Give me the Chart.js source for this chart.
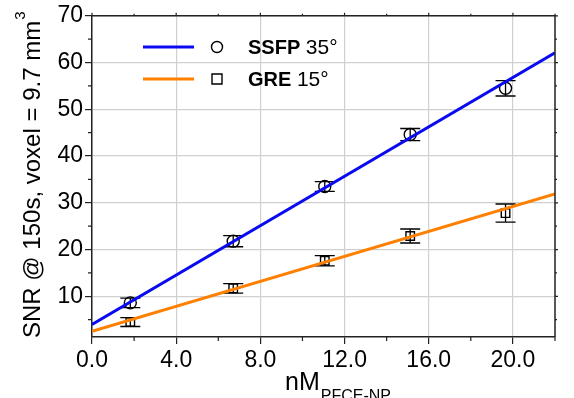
<!DOCTYPE html>
<html>
<head>
<meta charset="utf-8">
<script src="https://cdn.jsdelivr.net/npm/chart.js@4/dist/chart.umd.min.js"></script>
<style>
html,body{margin:0;padding:0;background:#fff;}
#wrap{width:574px;height:398px;position:relative;}
</style>
</head>
<body>
<div id="wrap"><canvas id="c" width="574" height="398"></canvas></div>
<script>
// ---- data ----
const xTicks = [0, 4, 8, 12, 16, 20];
const xMinorTicks = [2, 6, 10, 14, 18, 22];
const yTicks = [10, 20, 30, 40, 50, 60, 70];
const yMinorTicks = [5, 15, 25, 35, 45, 55, 65];
const conc = [1.82, 6.71, 11.06, 15.12, 19.65];
const ssfp = [8.6, 21.8, 33.5, 44.6, 54.5];
const ssfpErr = [1.0, 1.2, 1.05, 1.3, 1.65];
const gre = [4.5, 11.7, 17.6, 22.9, 27.8];
const greErr = [0.95, 1.0, 1.1, 1.5, 1.95];
const fitX = [0, 22];
const ssfpFit = [4.0, 62.1];
const greFit = [2.5, 31.9];
const seriesNames = ['SSFP', 'GRE'];
const seriesAngles = ['35°', '15°'];
const yTitle = 'SNR @ 150s, voxel = 9.7 mm';
const yTitleSup = '3';
const xTitle = 'nM';
const xTitleSub = 'PFCE-NP';

const BLUE = '#0a0af0';
const ORANGE = '#ff8000';
const FONT = '"Liberation Sans", Arial, Helvetica, sans-serif';

const toPts = (xs, ys) => xs.map((x, i) => ({x: x, y: ys[i]}));

const errorBars = {
  id: 'errorBars',
  beforeDatasetsDraw(chart) {
    const {ctx, scales: {x, y}} = chart;
    ctx.save();
    ctx.strokeStyle = '#000';
    ctx.lineWidth = 1.3;
    const draw = (vals, errs) => {
      vals.forEach((v, i) => {
        const px = x.getPixelForValue(conc[i]);
        const top = y.getPixelForValue(v + errs[i]);
        const bot = y.getPixelForValue(v - errs[i]);
        ctx.beginPath();
        ctx.moveTo(px, top); ctx.lineTo(px, bot);
        ctx.moveTo(px - 10, top); ctx.lineTo(px + 10, top);
        ctx.moveTo(px - 10, bot); ctx.lineTo(px + 10, bot);
        ctx.stroke();
      });
    };
    draw(ssfp, ssfpErr);
    draw(gre, greErr);
    ctx.restore();
  }
};

const frame = {
  id: 'frame',
  afterDraw(chart) {
    const {ctx, chartArea: a, scales: {x, y}} = chart;
    ctx.save();
    ctx.strokeStyle = '#222';
    ctx.lineWidth = 1.5;
    ctx.beginPath();
    ctx.moveTo(a.left, a.top); ctx.lineTo(a.right, a.top); ctx.lineTo(a.right, a.bottom);
    ctx.stroke();
    ctx.lineWidth = 1.2;
    ctx.beginPath();
    xMinorTicks.forEach(v => {
      const px = x.getPixelForValue(v);
      ctx.moveTo(px, a.bottom); ctx.lineTo(px, a.bottom + 4);
      ctx.moveTo(px, a.top); ctx.lineTo(px, a.top - 2);
    });
    xTicks.forEach(v => {
      const px = x.getPixelForValue(v);
      ctx.moveTo(px, a.top); ctx.lineTo(px, a.top - 3);
    });
    yMinorTicks.forEach(v => {
      const py = y.getPixelForValue(v);
      ctx.moveTo(a.left, py); ctx.lineTo(a.left - 4, py);
      ctx.moveTo(a.right, py); ctx.lineTo(a.right + 2, py);
    });
    yTicks.forEach(v => {
      const py = y.getPixelForValue(v);
      ctx.moveTo(a.right, py); ctx.lineTo(a.right + 3, py);
    });
    ctx.stroke();

    // legend
    const rows = [{c: BLUE, y: 47, m: 'circle'}, {c: ORANGE, y: 79, m: 'rect'}];
    rows.forEach((r, i) => {
      ctx.strokeStyle = r.c; ctx.lineWidth = 3;
      ctx.beginPath(); ctx.moveTo(143, r.y); ctx.lineTo(194, r.y); ctx.stroke();
      ctx.strokeStyle = '#000'; ctx.lineWidth = 1.4;
      ctx.beginPath();
      if (r.m === 'circle') ctx.arc(217, r.y, 5.5, 0, Math.PI * 2);
      else ctx.rect(212, r.y - 5, 10, 10);
      ctx.stroke();
      ctx.fillStyle = '#000';
      ctx.textBaseline = 'alphabetic';
      ctx.textAlign = 'left';
      ctx.font = 'bold 20px ' + FONT;
      ctx.fillText(seriesNames[i], 248, r.y + 7);
      const w = ctx.measureText(seriesNames[i] + ' ').width;
      ctx.font = '21px ' + FONT;
      ctx.fillText(seriesAngles[i], 248 + w, r.y + 7);
    });

    // y title
    ctx.save();
    ctx.translate(40, 338);
    ctx.rotate(-Math.PI / 2);
    ctx.font = '24px ' + FONT;
    ctx.fillStyle = '#000';
    ctx.textAlign = 'left';
    ctx.textBaseline = 'alphabetic';
    ctx.fillText(yTitle, 0, 0);
    const tw = ctx.measureText(yTitle).width;
    ctx.font = '15px ' + FONT;
    ctx.fillText(yTitleSup, tw + 1, -15);
    ctx.restore();

    // x title
    ctx.font = '25px ' + FONT;
    ctx.fillStyle = '#000';
    ctx.textAlign = 'left';
    ctx.fillText(xTitle, 285, 390);
    const xw = ctx.measureText(xTitle).width;
    ctx.font = '16px ' + FONT;
    ctx.fillText(xTitleSub, 285 + xw + 1, 401);
    ctx.restore();
  }
};

new Chart(document.getElementById('c'), {
  type: 'scatter',
  data: {
    datasets: [
      {type: 'line', data: toPts(fitX, ssfpFit), borderColor: BLUE, borderWidth: 3, pointRadius: 0, fill: false},
      {type: 'line', data: toPts(fitX, greFit), borderColor: ORANGE, borderWidth: 3, pointRadius: 0, fill: false},
      {data: toPts(conc, ssfp), pointStyle: 'circle', pointRadius: 6, borderColor: '#000', borderWidth: 1.4, backgroundColor: 'rgba(0,0,0,0)'},
      {data: toPts(conc, gre), pointStyle: 'rect', pointRadius: 6, borderColor: '#000', borderWidth: 1.4, backgroundColor: 'rgba(0,0,0,0)'}
    ]
  },
  options: {
    responsive: false,
    animation: false,
    events: [],
    layout: {padding: {left: 0, top: 13, right: 19, bottom: 0}},
    plugins: {legend: {display: false}, tooltip: {enabled: false}},
    scales: {
      x: {
        type: 'linear', min: 0, max: 22,
        afterBuildTicks: s => { s.ticks = xTicks.map(v => ({value: v})); },
        afterFit: s => { s.height = 61; },
        ticks: {callback: v => v.toFixed(1), color: '#000', font: {family: FONT, size: 23}, padding: 3, maxRotation: 0},
        grid: {color: '#d0d0d0', lineWidth: 1.2, drawTicks: true, tickLength: 7, tickColor: '#222', tickWidth: 1.2},
        border: {display: true, color: '#222', width: 1.5}
      },
      y: {
        type: 'linear', min: 1.3, max: 70,
        afterBuildTicks: s => { s.ticks = yTicks.map(v => ({value: v})); },
        afterFit: s => { s.width = 92; },
        ticks: {color: '#000', font: {family: FONT, size: 23}, padding: 2},
        grid: {color: '#d0d0d0', lineWidth: 1.2, drawTicks: true, tickLength: 7, tickColor: '#222', tickWidth: 1.2},
        border: {display: true, color: '#222', width: 1.5}
      }
    }
  },
  plugins: [errorBars, frame]
});
</script>
</body>
</html>
